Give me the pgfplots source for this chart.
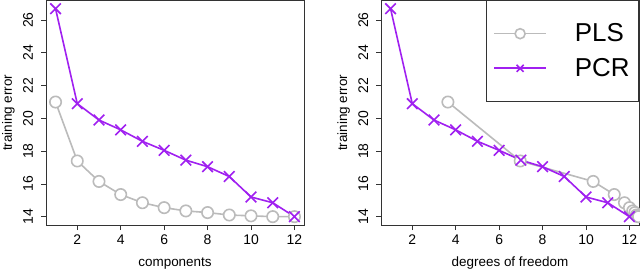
\documentclass[border=0pt]{standalone}
\usepackage{fontspec}
\setmainfont{Liberation Sans}
\usepackage{pgfplots}
\pgfplotsset{compat=1.18}
\definecolor{rpurple}{HTML}{A020F0}
\definecolor{rgray}{HTML}{BBBBBB}
\pgfplotsset{
  rstyle/.style={
    scale only axis,
    width=258bp, height=224.5bp,
    xmin=0.56, xmax=12.44, ymin=13.49, ymax=27.2,
    xtick={2,4,6,8,10,12}, ytick={14,16,...,26},
    tick align=outside, tick pos=left,
    major tick length=5bp,
    axis line style={line width=0.8bp, black!80},
    every tick/.style={line width=0.8bp, black!80},
    ticklabel style={font=\fontsize{14}{16}\selectfont},
    yticklabel style={rotate=90, anchor=base, yshift=8bp},
    xticklabel style={yshift=-1bp},
    label style={font=\fontsize{13.5}{15}\selectfont},
    xlabel style={at={(axis description cs:0.5,0)}, anchor=base, yshift=-41bp},
    ylabel={training error},
    ylabel style={at={(axis description cs:0,0.5)}, rotate=0, anchor=base, yshift=34bp},
    /pgf/number format/assume math mode=true,
    clip=false,
  },
  plsstyle/.style={color=rgray, line width=1.6bp, mark=*, mark size=5.7bp, mark options={fill=white, line width=1.6bp}},
  pcrstyle/.style={color=rpurple, line width=1.6bp, mark=x, mark size=7.5bp, mark options={line width=1.6bp}},
}
\begin{document}
\begin{tikzpicture}[x=1bp,y=1bp]
\useasboundingbox (0,0) rectangle (640,271);
\begin{axis}[rstyle, at={(46bp,46bp)}, anchor=south west, xlabel={components}]
\addplot[plsstyle] coordinates {
(1,21.0) (2,17.4) (3,16.15) (4,15.35) (5,14.85) (6,14.55) (7,14.35) (8,14.25) (9,14.1) (10,14.05) (11,14.0) (12,14.0)};
\addplot[pcrstyle] coordinates {
(1,26.7) (2,20.9) (3,19.9) (4,19.3) (5,18.6) (6,18.05) (7,17.45) (8,17.05) (9,16.45) (10,15.2) (11,14.85) (12,14.0)};
\end{axis}
\begin{axis}[rstyle, at={(381bp,46bp)}, anchor=south west, xlabel={degrees of freedom},
  legend style={at={(rel axis cs:1,1)}, anchor=north east, draw=black!80, line width=0.8bp, fill=white,
    font=\fontsize{26}{28}\selectfont, inner xsep=7bp, inner ysep=21bp, row sep=11bp,
    nodes={inner sep=2bp},
    /tikz/every odd column/.append style={column sep=26bp},
    /tikz/every even column/.append style={column sep=9bp}},
  legend cell align=left,
  legend image code/.code={
    \draw[#1, mark=none, line width=1.6bp] (0bp,0bp) -- (52bp,0bp);
    \draw[#1, line width=1.6bp, mark size=5bp] plot coordinates {(26bp,0bp)};
  }]
\addplot[plsstyle] coordinates {
(3.64,21.0) (6.97,17.4) (10.33,16.15) (11.3,15.35) (11.77,14.85) (12.0,14.55) (12.15,14.35) (12.25,14.25) (12.32,14.1) (12.37,14.05) (12.4,14.0) (12.42,14.0)};
\addlegendentry{PLS}
\addplot[pcrstyle] coordinates {
(1,26.7) (2,20.9) (3,19.9) (4,19.3) (5,18.6) (6,18.05) (7,17.45) (8,17.05) (9,16.45) (10,15.2) (11,14.85) (12,14.0)};
\addlegendentry{PCR}
\end{axis}
\end{tikzpicture}
\end{document}
